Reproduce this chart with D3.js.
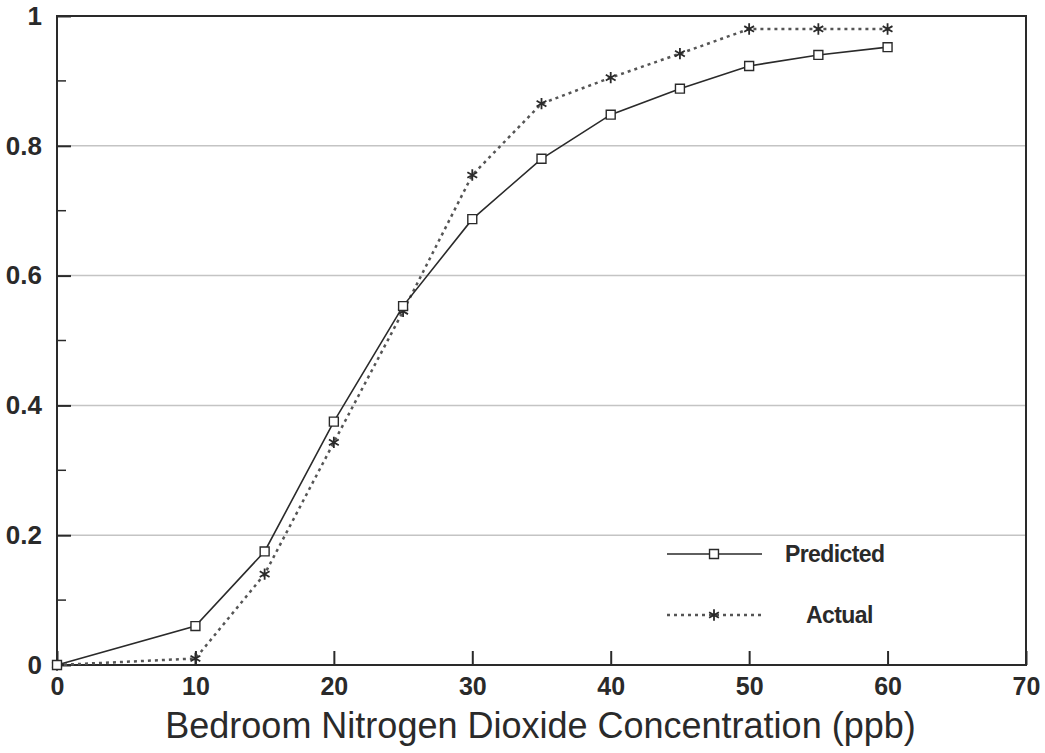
<!DOCTYPE html>
<html>
<head>
<meta charset="utf-8">
<script src="https://cdn.jsdelivr.net/npm/d3@7"></script>
<style>
  body { margin: 0; background: #fff; }
  svg { display: block; font-family: "Liberation Sans", Arial, sans-serif; }
</style>
</head>
<body>
<svg id="chart"></svg>
<script>
// NO2 concentration (ppb)
const concentration = [0, 10, 15, 20, 25, 30, 35, 40, 45, 50, 55, 60];
const predicted = [0, 0.06, 0.175, 0.375, 0.553, 0.687, 0.78, 0.848, 0.888, 0.923, 0.94, 0.952];
const actual = [0, 0.01, 0.14, 0.343, 0.545, 0.755, 0.865, 0.905, 0.942, 0.98, 0.98, 0.98];
const xTicks = [0, 10, 20, 30, 40, 50, 60, 70];
const yTicks = [0, 0.2, 0.4, 0.6, 0.8, 1];
const yMinor = [0.1, 0.3, 0.5, 0.7, 0.9];
const seriesNames = ["Predicted", "Actual"];

const width = 1045;
const height = 753;
const margin = { top: 16, right: 19, bottom: 88, left: 57 };
const ink = "#2a2a2a";

const svg = d3.select("#chart")
  .attr("width", width)
  .attr("height", height);

const x = d3.scaleLinear()
  .domain([0, 70])
  .range([margin.left, width - margin.right]);

const y = d3.scaleLinear()
  .domain([0, 1])
  .range([height - margin.bottom, margin.top]);

// gridlines
svg.append("g")
  .selectAll("line")
  .data(yTicks.filter(d => d > 0 && d < 1))
  .enter()
  .append("line")
  .attr("x1", x(0))
  .attr("x2", x(70))
  .attr("y1", d => y(d))
  .attr("y2", d => y(d))
  .attr("stroke", "#c4c4c4")
  .attr("stroke-width", 1.5);

// frame
svg.append("rect")
  .attr("x", x(0))
  .attr("y", y(1))
  .attr("width", x(70) - x(0))
  .attr("height", y(0) - y(1))
  .attr("fill", "none")
  .attr("stroke", ink)
  .attr("stroke-width", 2);

// axes with inward ticks
const xAxis = d3.axisBottom(x)
  .tickValues(xTicks)
  .tickSize(-14)
  .tickPadding(9)
  .tickFormat(d3.format("d"));

svg.append("g")
  .attr("transform", `translate(0,${y(0)})`)
  .call(xAxis)
  .call(g => g.select(".domain").remove())
  .call(g => g.selectAll(".tick line").attr("stroke", ink).attr("stroke-width", 2))
  .call(g => g.selectAll(".tick text")
    .attr("fill", ink)
    .attr("font-size", "25px")
    .attr("font-weight", "bold")
    .attr("dy", "0.85em"));

const yAxis = d3.axisLeft(y)
  .tickValues(yTicks)
  .tickSize(-14)
  .tickPadding(15)
  .tickFormat(d => d === 0 || d === 1 ? d3.format("d")(d) : d3.format(".1f")(d));

svg.append("g")
  .attr("transform", `translate(${x(0)},0)`)
  .call(yAxis)
  .call(g => g.select(".domain").remove())
  .call(g => g.selectAll(".tick line").attr("stroke", ink).attr("stroke-width", 2))
  .call(g => g.selectAll(".tick text")
    .attr("fill", ink)
    .attr("font-size", "26px")
    .attr("font-weight", "bold"));

// minor y ticks
svg.append("g")
  .selectAll("line")
  .data(yMinor)
  .enter()
  .append("line")
  .attr("x1", x(0))
  .attr("x2", x(0) + 9)
  .attr("y1", d => y(d))
  .attr("y2", d => y(d))
  .attr("stroke", ink)
  .attr("stroke-width", 1.5);

// x axis title
svg.append("text")
  .attr("x", (x(0) + x(70)) / 2 - 1)
  .attr("y", 738)
  .attr("text-anchor", "middle")
  .attr("font-size", "36px")
  .attr("fill", ink)
  .text("Bedroom Nitrogen Dioxide Concentration (ppb)");

const line = d3.line()
  .x(d => x(d[0]))
  .y(d => y(d[1]));

const predData = concentration.map((c, i) => [c, predicted[i]]);
const actData = concentration.map((c, i) => [c, actual[i]]);

const square = d3.symbol().type(d3.symbolSquare).size(80);
const star = d3.symbol().type(d3.symbolAsterisk).size(90);

// actual series (dotted)
svg.append("path")
  .datum(actData)
  .attr("d", line)
  .attr("fill", "none")
  .attr("stroke", "#555")
  .attr("stroke-width", 2.5)
  .attr("stroke-dasharray", "3,4");

svg.append("g")
  .selectAll("path")
  .data(actData)
  .enter()
  .append("path")
  .attr("d", star)
  .attr("transform", d => `translate(${x(d[0])},${y(d[1])})`)
  .attr("fill", "none")
  .attr("stroke", ink)
  .attr("stroke-width", 1.8);

// predicted series (solid)
svg.append("path")
  .datum(predData)
  .attr("d", line)
  .attr("fill", "none")
  .attr("stroke", ink)
  .attr("stroke-width", 1.6);

svg.append("g")
  .selectAll("path")
  .data(predData)
  .enter()
  .append("path")
  .attr("d", square)
  .attr("transform", d => `translate(${x(d[0])},${y(d[1])})`)
  .attr("fill", "#fff")
  .attr("stroke", ink)
  .attr("stroke-width", 1.4);

// legend
const legend = svg.append("g");
const legendRows = [
  { name: seriesNames[0], y: 554, textX: 785, dash: null, color: ink, width: 1.6, sym: square, fill: "#fff", sw: 1.4 },
  { name: seriesNames[1], y: 615, textX: 806, dash: "3,4", color: "#555", width: 2.5, sym: star, fill: "none", sw: 1.8 }
];

legendRows.forEach(r => {
  legend.append("line")
    .attr("x1", 667)
    .attr("x2", 762)
    .attr("y1", r.y)
    .attr("y2", r.y)
    .attr("stroke", r.color)
    .attr("stroke-width", r.width)
    .attr("stroke-dasharray", r.dash);
  legend.append("path")
    .attr("d", r.sym)
    .attr("transform", `translate(714,${r.y})`)
    .attr("fill", r.fill)
    .attr("stroke", ink)
    .attr("stroke-width", r.sw);
  legend.append("text")
    .attr("x", r.textX)
    .attr("y", r.y)
    .attr("dy", "0.35em")
    .attr("font-size", "23px")
    .attr("font-weight", "bold")
    .attr("letter-spacing", "-0.6px")
    .attr("fill", ink)
    .text(r.name);
});
</script>
</body>
</html>
